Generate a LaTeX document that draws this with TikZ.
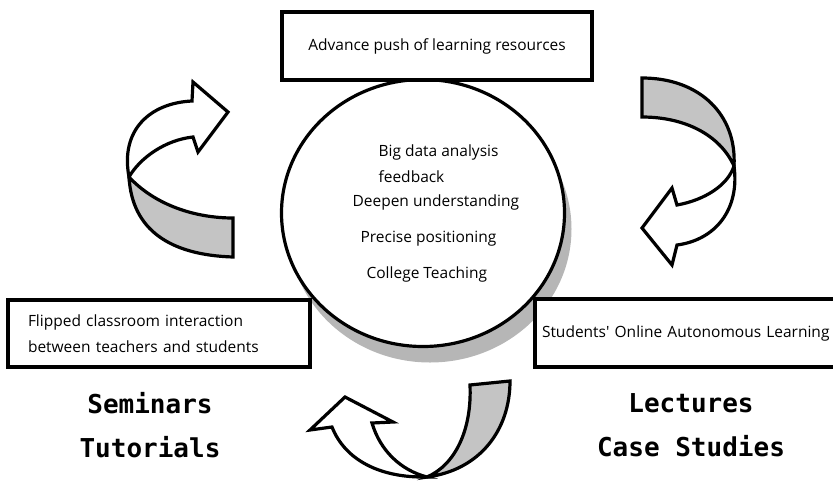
\documentclass[tikz,border=0pt]{standalone}
\usepackage{fontspec}
\setmainfont{Open Sans}
\newfontfamily\headfont{DejaVu Sans Mono}
\usetikzlibrary{shapes.geometric}
\definecolor{bandgray}{RGB}{196,196,196}
\definecolor{shadegray}{RGB}{182,182,182}

\begin{document}
\begin{tikzpicture}[x=1pt,y=-1pt,line width=3.2pt,
    box/.style={draw, fill=white, rectangle, inner sep=0pt, font=\fontsize{15.5}{26}\selectfont},
    hubshape/.style={ellipse, minimum width=283pt, minimum height=267pt, inner sep=0pt},
    band/.style={draw, fill=bandgray},
    face/.style={draw, fill=white},
    heading/.style={font=\headfont\bfseries\fontsize{26}{44}\selectfont, align=center}]
    \useasboundingbox (0,0) rectangle (833,480);

    \node[hubshape, fill=shadegray] (hubshadow) at (430,229) {};
    \node[hubshape, draw, fill=white] (hub) at (423,213) {};
    \foreach \name/\x/\y/\txt in {big/377/152/Big data analysis, feed/377/177/feedback,
        deepen/351/202/Deepen understanding, precise/359/239/Precise positioning,
        college/365/274/College Teaching}{
      \node[anchor=west, inner sep=0pt, font=\fontsize{15.5}{18}\selectfont] (\name) at (\x,\y) {\txt};
    }

    \node[box, minimum width=310pt, minimum height=68pt] (push) at (437,46) {Advance push of learning resources};
    \node[box, minimum width=302pt, minimum height=67pt, text width=262pt, align=left] (flip) at (159,333.5)
      {Flipped classroom interaction\\between teachers and students};
    \node[box, minimum width=315pt, minimum height=68pt, text width=301pt, align=left] (online) at (692.5,333)
      {Students\textquotesingle\ Online Autonomous Learning};

    \node[heading] (seminars) at (150,425) {Seminars\\Tutorials};
    \node[heading] (lectures) at (691,425) {Lectures\\Case Studies};

    % left turn
    \draw[band] (129,177) .. controls (155,205) and (195,218) .. (233,218) -- (233,257)
      .. controls (170,255) and (132,230) .. cycle;
    \draw[face] (129,177) .. controls (120,130) and (150,103) .. (192,101) -- (193,82) -- (228,112)
      -- (198,152) -- (193,137) .. controls (165,140) and (140,158) .. cycle;

    % right turn
    \draw[band] (642,78) .. controls (700,78) and (737,115) .. (734,166)
      .. controls (720,135) and (685,117) .. (642,117) -- cycle;
    \draw[face] (734,166) .. controls (740,210) and (715,240) .. (677,245) -- (672,265) -- (642,228)
      -- (672,188) -- (677,205) .. controls (705,200) and (728,185) .. cycle;

    % bottom turn
    \draw[band] (470,385) .. controls (472,430) and (455,465) .. (427,477)
      .. controls (480,470) and (510,430) .. (510,381) -- cycle;
    \draw[face] (427,477) .. controls (380,478) and (345,460) .. (332,427) -- (310,430) -- (345,397)
      -- (393,422) -- (372,423) .. controls (380,450) and (400,470) .. cycle;
\end{tikzpicture}
\end{document}
